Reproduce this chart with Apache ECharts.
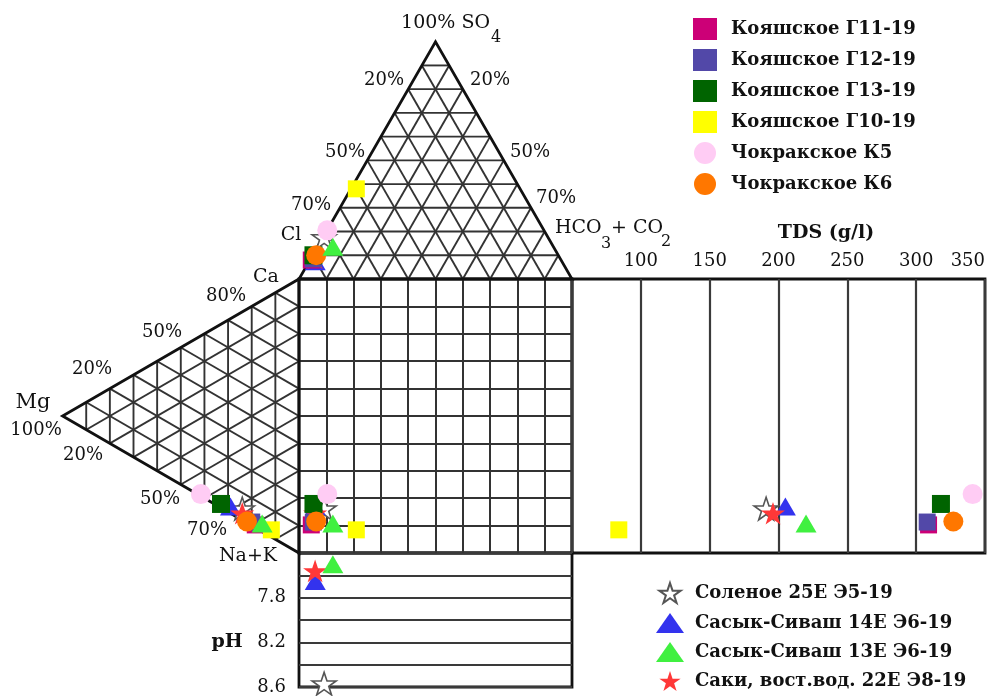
<!DOCTYPE html>
<html>
<head>
<meta charset="utf-8">
<script src="https://cdn.jsdelivr.net/npm/echarts@6/dist/echarts.min.js"></script>
<style>html,body{margin:0;padding:0;background:#fff}#c{width:994px;height:696px}</style>
</head>
<body>
<div id="c"></div>
<script>
// ---------- DATA ----------
const sampleNames = ['Кояшское Г11-19','Кояшское Г12-19','Кояшское Г13-19','Кояшское Г10-19','Чокракское К5','Чокракское К6',
  'Соленое 25Е Э5-19','Сасык-Сиваш 14Е Э6-19','Сасык-Сиваш 13Е Э6-19','Саки, вост.вод. 22Е Э8-19'];
// anions, % (Cl = 100 - SO4 - HCO3)
const so4  = [8, 8.5, 10, 38, 20.5, 10, 17.5, 7.5, 13.6, 9];
const hco3 = [0.5, 1, 0.3, 2, 0.1, 1.3, 0.45, 2.2, 5.6, 1.4];
// cations, % (Na+K = 100 - Ca - Mg)
const ca = [1, 1.3, 1.4, 2.6, 0.75, 0.5, 4.2, 2.5, 3, 2.5];
const mg = [18.5, 20, 33, 11.7, 41.5, 22, 24, 29, 15.6, 24];
// TDS, g/l
const tds = [309, 308, 318, 84, 341, 327, 191, 205, 220, 196];
// pH
const ph = [null, null, null, null, null, null, 8.57, 7.65, 7.50, 7.56];
// tick labels
const tdsTickLabels = ['100','150','200','250','300','350'];
const phTickLabels = ['7.8','8.2','8.6'];

// ---------- STYLE ----------
const STAR = 'path://M50,0 L61.8,35.1 L98.9,35.1 L68.9,56.8 L80.3,91.9 L50,70.3 L19.7,91.9 L31.1,56.8 L1.1,35.1 L38.2,35.1 Z';
const sty = [
  {symbol:'rect', size:17, color:'#cc0077'},
  {symbol:'rect', size:17, color:'#5248a8'},
  {symbol:'rect', size:18, color:'#006400'},
  {symbol:'rect', size:17, color:'#ffff00'},
  {symbol:'circle', size:20, color:'#ffccf4'},
  {symbol:'circle', size:20, color:'#ff7700'},
  {symbol:STAR, size:24, color:'#ffffff', border:'#555555'},
  {symbol:'triangle', size:[21,18], color:'#3333ee'},
  {symbol:'triangle', size:[21,18], color:'#40f040'},
  {symbol:STAR, size:24, color:'#ff3838'}
];
const drawOrder = [6,7,9,0,1,2,3,4,5,8];
const K = Math.sqrt(3)/2;
const SERIF = 'DejaVu Serif';

function frameRender(params, api){
  const ch = [];
  const P = (x,y)=>api.coord([x,y]);
  const thin = {stroke:'#333', lineWidth:1.9, fill:null};
  const line = (a,b)=>ch.push({type:'line', shape:{x1:a[0],y1:a[1],x2:b[0],y2:b[1]}, style:thin});
  for(let i=1;i<10;i++){
    const t=i*10;
    line(P(t/2,100+K*t),P(100-t/2,100+K*t));
    line(P(100-t,100),P((100-t)/2,100+K*(100-t)));
    line(P(t,100),P(50+t/2,100+K*(100-t)));
    line(P(-K*t,t/2),P(-K*t,100-t/2));
    line(P(0,t),P(-K*(100-t),t+(100-t)/2));
    line(P(0,100-t),P(-K*(100-t),(100-t)/2));
  }
  const thick = {stroke:'#111', lineWidth:2.8, fill:null};
  ch.push({type:'polygon', shape:{points:[P(0,100),P(100,100),P(50,100+K*100)]}, style:thick});
  ch.push({type:'polygon', shape:{points:[P(0,100),P(0,0),P(-K*100,50)]}, style:thick});
  return {type:'group', children:ch};
}

const series = [{
  type:'custom', xAxisIndex:0, yAxisIndex:0, data:[0], renderItem:frameRender, silent:true, z:1, clip:false
}];
drawOrder.forEach((i,k)=>{
  const s = sty[i];
  const u = hco3[i] + so4[i]/2;
  const v = ca[i] + mg[i]/2;
  const common = {
    name:sampleNames[i], type:'scatter', symbol:s.symbol, symbolSize:s.size, symbolKeepAspect:true,
    itemStyle:{color:s.color, borderColor:s.border||s.color, borderWidth:s.border?1.6:0, opacity:1},
    z:3+k, clip:false, silent:true
  };
  series.push(Object.assign({}, common, {xAxisIndex:0, yAxisIndex:0,
    data:[[u,100+K*so4[i]],[-K*mg[i],v],[u,v]]}));
  series.push(Object.assign({}, common, {xAxisIndex:1, yAxisIndex:1, data:[[tds[i],v]]}));
  if(ph[i]!=null) series.push(Object.assign({}, common, {xAxisIndex:2, yAxisIndex:2, data:[[u,ph[i]]]}));
});

const gridStyle = {show:true, borderColor:'#111', borderWidth:2.8, backgroundColor:'transparent'};
const hidden = {show:false};
const split = (c,w)=>({show:true, lineStyle:{color:c, width:w}});

const label = (t,x,y,opt={})=>({type:'text', x, y, silent:true, z:50, style:Object.assign({
  text:t, fontFamily:SERIF, fontSize:18, fill:'#111', align:'center', verticalAlign:'middle'}, opt)});

const graphics = [
  label('100% SO',490,23.5,{align:'right',fontSize:19}), label('4',491,38,{align:'left',fontSize:16}),
  label('20%',384,80), label('20%',490,80),
  label('50%',345,152), label('50%',530,152),
  label('70%',311,205), label('70%',556,198),
  label('Cl',291,235,{fontSize:19}),
  label('HCO',555,228,{align:'left',fontSize:19}), label('3',601,244,{align:'left',fontSize:16}),
  label('+ CO',611,228,{align:'left',fontSize:19}), label('2',661,242,{align:'left',fontSize:16}),
  label('TDS (g/l)',826,233,{fontWeight:'bold',fontSize:19}),
  label('Ca',266,277,{fontSize:19}), label('80%',226,296), label('50%',162,332), label('20%',92,369),
  label('Mg',33,403,{fontSize:21}), label('100%',36,430), label('20%',83,455), label('50%',160,499),
  label('70%',207,530), label('Na+K',248,556,{fontSize:19}),
  label('pH',227,642,{fontWeight:'bold',fontSize:19})
];

const legendText = {fontFamily:SERIF, fontWeight:'bold', fontSize:18, color:'#111'};
const option = {
  animation:false,
  backgroundColor:'#fff',
  grid:[
    Object.assign({left:299, top:279, width:273, height:274}, gridStyle),
    Object.assign({left:572, top:279, width:413, height:274}, gridStyle),
    Object.assign({left:299, top:553, width:273, height:138}, gridStyle)
  ],
  xAxis:[
    {gridIndex:0, type:'value', min:0, max:100, interval:10, axisLine:hidden, axisTick:hidden, axisLabel:hidden, splitLine:split('#333',2)},
    {gridIndex:1, type:'value', min:50, max:350, interval:50, position:'top', axisLine:hidden, axisTick:hidden,
      splitLine:split('#3a3a3a',2.2),
      axisLabel:{show:true, margin:9, fontFamily:SERIF, fontSize:18, color:'#111', alignMaxLabel:'right',
        formatter:(v)=>tdsTickLabels.includes(String(v))?String(v):''}},
    {gridIndex:2, type:'value', min:0, max:100, axisLine:hidden, axisTick:hidden, axisLabel:hidden, splitLine:hidden}
  ],
  yAxis:[
    {gridIndex:0, type:'value', min:0, max:100, interval:10, axisLine:hidden, axisTick:hidden, axisLabel:hidden, splitLine:split('#333',2)},
    {gridIndex:1, type:'value', min:0, max:100, axisLine:hidden, axisTick:hidden, axisLabel:hidden, splitLine:hidden},
    {gridIndex:2, type:'value', min:7.4, max:8.6, interval:0.2, inverse:true, axisLine:hidden, axisTick:hidden,
      splitLine:split('#3a3a3a',2.2),
      axisLabel:{show:true, margin:13, fontFamily:SERIF, fontSize:18, color:'#111',
        formatter:(v)=>{const s=(Math.round(v*10)/10).toFixed(1); return phTickLabels.includes(s)?s:'';}}}
  ],
  legend:[
    {data:sampleNames.slice(0,6), orient:'vertical', left:693, top:18, padding:0, itemWidth:24, itemHeight:22, itemGap:9,
      selectedMode:false, textStyle:Object.assign({padding:[0,0,0,9]}, legendText)},
    {data:sampleNames.slice(6), orient:'vertical', left:656, top:582, padding:0, height:110, itemWidth:28, itemHeight:20, itemGap:9,
      selectedMode:false, textStyle:Object.assign({padding:[0,0,0,6]}, legendText)}
  ],
  graphic:graphics,
  series:series
};
const chart = echarts.init(document.getElementById('c'), null, {renderer:'canvas'});
chart.setOption(option);
</script>
</body>
</html>
